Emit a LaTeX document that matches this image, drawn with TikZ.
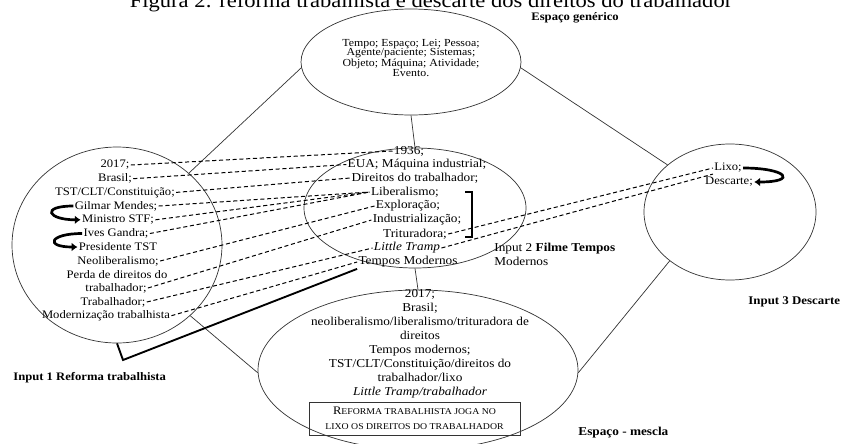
\documentclass[tikz,border=0pt]{standalone}
\usepackage{fontspec}
\setmainfont{Liberation Serif}[FakeStretch=1.1]
\usetikzlibrary{shapes.geometric,arrows.meta}

\begin{document}
\begin{tikzpicture}[scale=0.3,
    blob/.style={draw=black!80, line width=0.6pt, ellipse, inner sep=0pt},
    itm/.style={font=\fontsize{9.8}{11}\selectfont},
    midtxt/.style={font=\fontsize{10.3}{12}\selectfont},
    link/.style={draw=black!80, line width=0.6pt},
    maplink/.style={draw=black, line width=0.85pt, dash pattern=on 3.5pt off 2.3pt},
    bendarrow/.style={line width=2.3pt, -{Latex[length=5pt,width=7.5pt]}},
    lbl/.style={font=\fontsize{9.8}{12}\selectfont, anchor=west}]
        \tikzstyle{every node}+=[inner sep=1pt, text=black]
        \useasboundingbox (0,0) rectangle (84.2,-44.3);
        \node [font=\fontsize{17.5}{20}\selectfont, anchor=base] (title) at (43.1,-0.7) {Figura 2: reforma trabalhista e descarte dos direitos do trabalhador};
        \node [blob, minimum width=6.6cm, minimum height=3.18cm] (gen) at (41.1,-6.2) {};
        \node [blob, minimum width=6.3cm, minimum height=5.88cm] (in1) at (11.7,-24.5) {};
        \node [blob, minimum width=6.66cm, minimum height=3.6cm] (in2) at (41.5,-20.8) {};
        \node [blob, minimum width=5.16cm, minimum height=4.08cm] (in3) at (73,-21.2) {};
        \node [blob, minimum width=9.6cm, minimum height=4.8cm] (blend) at (41.8,-37) {};
        \draw [link] (gen.183) -- (in1.45);
        \draw [link] (gen.357) -- (in3.143);
        \draw [link] (gen.south) -- (in2.north);
        \draw [link] (in2.south) -- (blend.north);
        \draw [link] (in1.316) -- (blend.181);
        \draw [link] (in3.219) -- (blend.359);
        \node [align=center, font=\fontsize{9.2}{8.1}\selectfont] (gentxt) at (41.1,-5.8) {Tempo; Espaço; Lei; Pessoa;\\Agente/paciente; Sistemas;\\Objeto; Máquina; Atividade;\\Evento.};
        \node [itm] (l2017) at (11.5,-16.5) {2017;};
        \node [itm] (lbrasil) at (11.5,-17.87) {Brasil;};
        \node [itm] (ltst) at (11.5,-19.24) {TST/CLT/Constituição;};
        \node [itm] (lgilmar) at (11.6,-20.6) {Gilmar Mendes;};
        \node [itm] (lministro) at (11.8,-21.98) {Ministro STF;};
        \node [itm] (lives) at (11.6,-23.35) {Ives Gandra;};
        \node [itm] (lpres) at (11.8,-24.7) {Presidente TST};
        \node [itm] (lneolib) at (11.8,-26.1) {Neoliberalismo;};
        \node [itm] (lperda) at (11.7,-27.46) {Perda de direitos do};
        \node [itm] (lperdb) at (11.6,-28.8) {trabalhador;};
        \node [itm] (ltrab) at (11.3,-30.2) {Trabalhador;};
        \node [itm] (lmodern) at (10.6,-31.57) {Modernização trabalhista};
        \node [midtxt] (c1936) at (40.9,-15.1) {1936;};
        \node [midtxt] (ceua) at (41.7,-16.45) {EUA; Máquina industrial;};
        \node [midtxt] (cdireitos) at (41.5,-17.8) {Direitos do trabalhador;};
        \node [midtxt] (cliberal) at (40.5,-19.2) {Liberalismo;};
        \node [midtxt] (cexplor) at (40.8,-20.6) {Exploração;};
        \node [midtxt] (cindust) at (41.7,-22) {Industrialização;};
        \node [midtxt] (ctritur) at (41.5,-23.4) {Trituradora;};
        \node [midtxt] (ctramp) at (40.7,-24.8) {\textit{Little Tramp}};
        \node [midtxt] (ctempos) at (40.8,-26.2) {Tempos Modernos};
        \draw [line width=1.3pt] (46.5,-19.2) -- (47.2,-19.2) -- (47.2,-23.7) -- (46.5,-23.7);
        \node [itm] (lixo) at (72.8,-16.8) {Lixo;};
        \node [itm] (descarte) at (72.9,-18.2) {Descarte;};
        \node [align=center, font=\fontsize{10.3}{11.9}\selectfont] (blendtxt) at (42,-34.4) {2017;\\Brasil;\\neoliberalismo/liberalismo/trituradora de\\direitos\\Tempos modernos;\\TST/CLT/Constituição/direitos do\\trabalhador/lixo\\\textit{Little Tramp/trabalhador}};
        \node [draw=black!80, line width=0.5pt, minimum width=6.33cm, minimum height=0.99cm, align=center, inner sep=0pt, font=\fontsize{7.6}{12.5}\selectfont] (slogan) at (41.45,-41.85) {{\fontsize{9.8}{12.5}\selectfont R}EFORMA TRABALHISTA JOGA NO\\LIXO OS DIREITOS DO TRABALHADOR};
        \draw [maplink] (l2017.east) -- (c1936.west);
        \draw [maplink] (lbrasil.east) -- (ceua.west);
        \draw [maplink] (ltst.east) -- (cdireitos.west);
        \draw [maplink] (lgilmar.east) -- (cliberal.west);
        \draw [maplink] (lministro.east) -- (cliberal.west);
        \draw [maplink] (lives.east) -- (cliberal.west);
        \draw [maplink] (lneolib.east) -- (cexplor.west);
        \draw [maplink] (lperdb.east) -- (cindust.west);
        \draw [maplink] (ltrab.east) -- (ctramp.west);
        \draw [maplink] (lmodern.east) -- (ctempos.west);
        \draw [maplink] (ctritur.east) -- (lixo.west);
        \draw [maplink] (ctramp.east) -- (lixo.south west);
        \coordinate (kink) at (12.3,-36);
        \draw [line width=1.6pt] (in1.south) -- (kink) -- (ctempos.south west);
        \draw [bendarrow] (lgilmar.west) .. controls +(-3.3,0) and +(-3.3,0) .. (lministro.west);
        \draw [bendarrow] (lives.west) .. controls +(-3.3,0) and +(-3.3,0) .. (lpres.west);
        \draw [bendarrow] (lixo.east) .. controls +(4.4,0) and +(4.4,0) .. (descarte.east);
        \node [lbl, font=\fontsize{9.8}{12}\selectfont\bfseries] (genlabel) at (53,-1.8) {Espaço genérico};
        \node [lbl, font=\fontsize{9.8}{12}\selectfont\bfseries] (in1label) at (1.2,-37.8) {Input 1 Reforma trabalhista};
        \node [lbl, anchor=north west, align=left, font=\fontsize{10.3}{12}\selectfont] (in2label) at (49.3,-24.2) {Input 2 \textbf{Filme Tempos}\\Modernos};
        \node [lbl, font=\fontsize{10}{12}\selectfont\bfseries] (in3label) at (74.7,-30.2) {Input 3 Descarte};
        \node [lbl, font=\fontsize{10.3}{12}\selectfont\bfseries] (blendlabel) at (57.7,-43.3) {Espaço - mescla};
      \end{tikzpicture}
\end{document}
